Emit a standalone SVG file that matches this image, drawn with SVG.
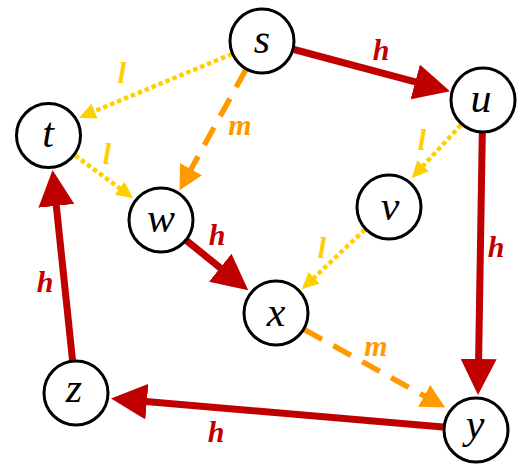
<svg xmlns="http://www.w3.org/2000/svg" width="526" height="471" viewBox="0 0 526 471">
<style>
.node circle{fill:#fff;stroke:#000;stroke-width:3}
.node text{font-style:italic;font-size:42px;fill:#000;text-anchor:middle}
.h{stroke:#C00000;stroke-width:7;fill:none}
.l{stroke:#FFD000;stroke-width:4.5;stroke-dasharray:4.5 3;fill:none}
.m{stroke:#FF9900;stroke-width:5.5;stroke-dasharray:20 13;fill:none}
.lab{font-style:italic;font-weight:bold;font-size:30px;text-anchor:middle}
.lh{fill:#C00000}.ll{fill:#FFD000}.lm{fill:#FF9900}
</style>
<defs>
<marker id="ah" markerUnits="userSpaceOnUse" viewBox="0 -18 36 36" markerWidth="36" markerHeight="36" refX="1" refY="0" orient="auto"><path d="M0,-18 L36,0 L0,18 z" fill="#C00000"/></marker>
<marker id="al" markerUnits="userSpaceOnUse" viewBox="0 -8 17 16" markerWidth="17" markerHeight="16" refX="1" refY="0" orient="auto"><path d="M0,-8 L17,0 L0,8 z" fill="#FFD000"/></marker>
<marker id="am" markerUnits="userSpaceOnUse" viewBox="0 -12.5 24 25" markerWidth="24" markerHeight="25" refX="1" refY="0" orient="auto"><path d="M0,-12.5 L24,0 L0,12.5 z" fill="#FF9900"/></marker>
</defs>
<g id="connectors" font-family="Liberation Serif, serif">
<line class="h" x1="294" y1="49.5" x2="416.2" y2="82.2" marker-end="url(#ah)"/>
<line class="h" x1="482.3" y1="133" x2="478.6" y2="360" marker-end="url(#ah)"/>
<line class="h" x1="186.7" y1="240.8" x2="221" y2="268.4" marker-end="url(#ah)"/>
<line class="h" x1="443" y1="427" x2="145.9" y2="401.6" marker-end="url(#ah)"/>
<line class="h" x1="72.5" y1="360" x2="56.2" y2="204.8" marker-end="url(#ah)"/>
<line class="l" x1="232" y1="54" x2="93.7" y2="111.5" marker-end="url(#al)"/>
<line class="l" x1="75" y1="155.5" x2="120.4" y2="188.8" marker-end="url(#al)"/>
<line class="l" x1="461" y1="125" x2="422.5" y2="166.5" marker-end="url(#al)"/>
<line class="l" x1="365" y1="229.5" x2="313.4" y2="278.3" marker-end="url(#al)"/>
<line class="m" x1="245.8" y1="69.7" x2="190.6" y2="170" marker-end="url(#am)"/>
<line class="m" x1="304.5" y1="329.7" x2="425" y2="396.4" marker-end="url(#am)"/>
<text class="lab lh" x="381" y="60">h</text>
<text class="lab lh" x="496" y="257">h</text>
<text class="lab lh" x="217" y="245">h</text>
<text class="lab lh" x="45" y="292">h</text>
<text class="lab lh" x="216" y="442">h</text>
<text class="lab ll" x="122" y="83">l</text>
<text class="lab ll" x="107" y="164">l</text>
<text class="lab ll" x="422" y="150">l</text>
<text class="lab ll" x="322" y="258">l</text>
<text class="lab lm" x="240" y="135">m</text>
<text class="lab lm" x="376" y="356">m</text>
</g>
<g font-family="Liberation Serif, serif">
<g id="node-s" class="node"><circle cx="262" cy="41" r="32"/><text x="262" y="53">s</text></g>
<g id="node-t" class="node"><circle cx="48.5" cy="135.5" r="32"/><text x="48" y="147">t</text></g>
<g id="node-u" class="node"><circle cx="483" cy="100" r="32"/><text x="481" y="112">u</text></g>
<g id="node-v" class="node"><circle cx="389" cy="207" r="32"/><text x="390" y="220">v</text></g>
<g id="node-w" class="node"><circle cx="161" cy="220" r="32"/><text x="161" y="232">w</text></g>
<g id="node-x" class="node"><circle cx="276" cy="313" r="32"/><text x="276" y="326">x</text></g>
<g id="node-y" class="node"><circle cx="476" cy="430" r="32"/><text x="475" y="438">y</text></g>
<g id="node-z" class="node"><circle cx="76" cy="393" r="32"/><text x="74" y="402">z</text></g>
</g>
</svg>
